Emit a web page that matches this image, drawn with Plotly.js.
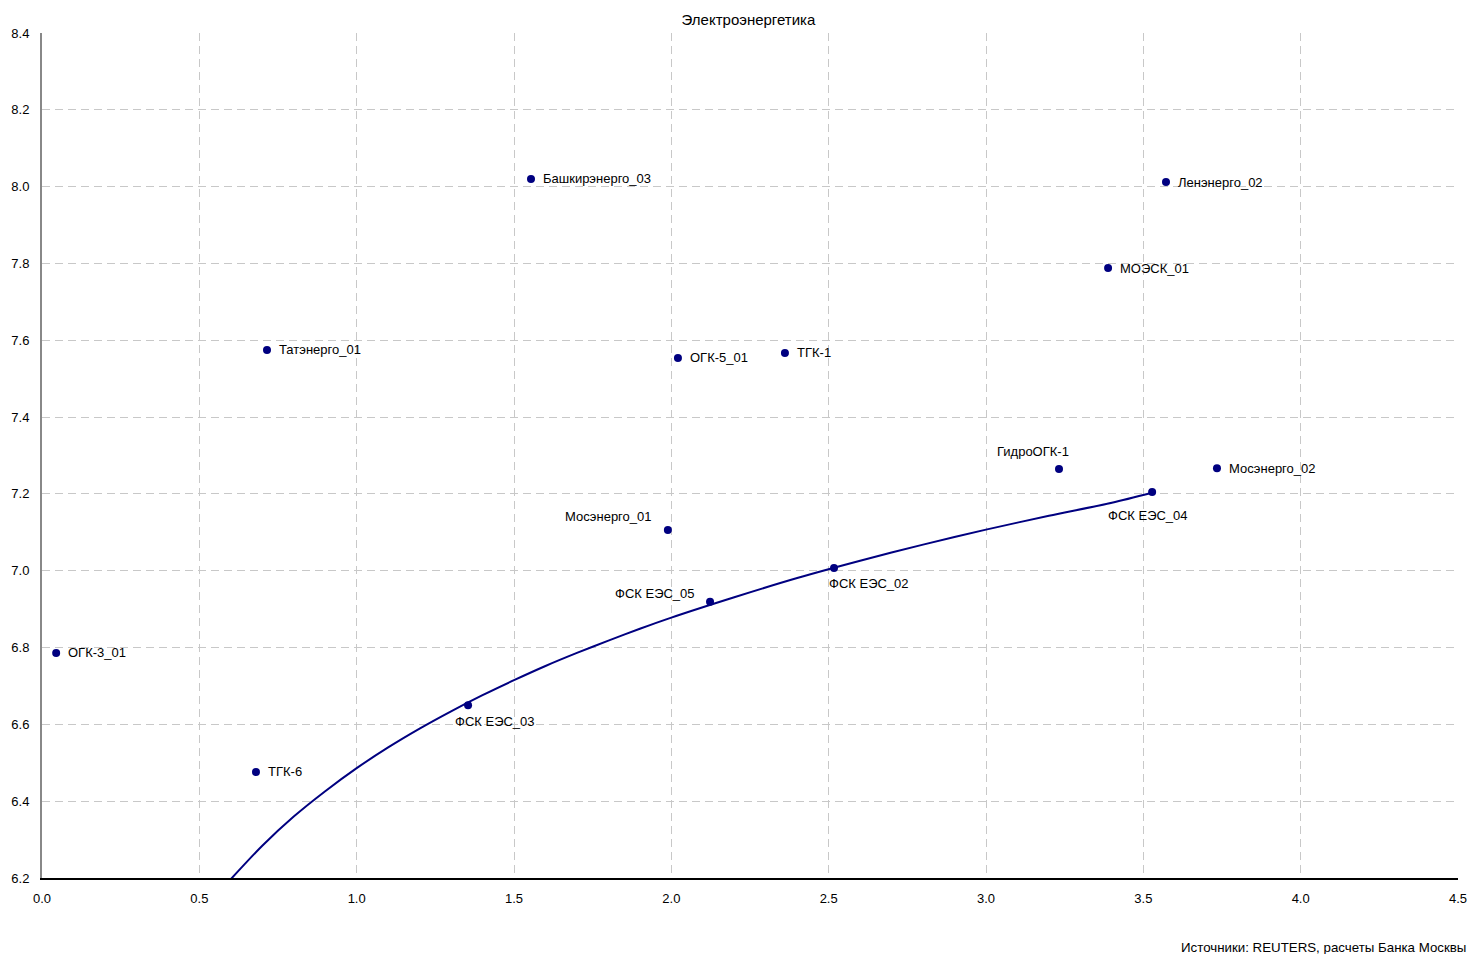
<!DOCTYPE html>
<html>
<head>
<meta charset="utf-8">
<script src="https://cdn.plot.ly/plotly-3.0.1.min.js"></script>
<style>html,body{margin:0;padding:0;background:#fff;}#chart{width:1469px;height:954px;}</style>
</head>
<body>
<div id="chart"></div>
<script>
// Issuers and their coordinates
const names = ["ОГК-3_01","ТГК-6","Татэнерго_01","Башкирэнерго_03","ФСК ЕЭС_03","Мосэнерго_01","ОГК-5_01","ФСК ЕЭС_05","ТГК-1","ФСК ЕЭС_02","ГидроОГК-1","ФСК ЕЭС_04","МОЭСК_01","Ленэнерго_02","Мосэнерго_02"];
const xVals = [0.045, 0.680, 0.715, 1.554, 1.354, 1.989, 2.021, 2.123, 2.361, 2.517, 3.232, 3.528, 3.388, 3.572, 3.734];
const yVals = [6.786, 6.476, 7.575, 8.020, 6.650, 7.106, 7.554, 6.919, 7.567, 7.007, 7.265, 7.205, 7.788, 8.012, 7.267];

// Trend curve points
const trendX = [0.60, 0.70, 0.80, 0.90, 1.00, 1.10, 1.20, 1.30, 1.40, 1.50, 1.60, 1.70, 1.80, 1.90, 2.00, 2.20, 2.40, 2.60, 2.80, 3.00, 3.20, 3.40, 3.528];
const trendY = [6.197, 6.284, 6.360, 6.426, 6.486, 6.540, 6.589, 6.634, 6.676, 6.715, 6.752, 6.786, 6.818, 6.849, 6.878, 6.931, 6.981, 7.026, 7.068, 7.107, 7.143, 7.177, 7.203];

// Label placement (style only): [xanchor, xshift px, yshift px]
const labelPlace = [
  ["left",10,0],["left",10,0],["left",10,0],["left",10,0],
  ["center",27,-16],["right",-14,14],["left",10,0],["right",-13,8],
  ["left",10,0],["left",-7,-15],["center",-26,17],["center",-4,-24],
  ["left",10,0],["left",10,0],["left",10,0]
];

const navy = "#000080";
const font = {family: "Liberation Sans, Arial, sans-serif", size: 13, color: "#000"};

const traces = [
  {x: trendX, y: trendY, type: "scatter", mode: "lines", line: {color: navy, width: 2, shape: "spline", smoothing: 0.8}, hoverinfo: "skip", showlegend: false},
  {x: xVals, y: yVals, type: "scatter", mode: "markers", marker: {color: navy, size: 8}, text: names, showlegend: false}
];

const annotations = names.map((n, i) => ({
  x: xVals[i], y: yVals[i], xref: "x", yref: "y", text: n, showarrow: false,
  xanchor: labelPlace[i][0], yanchor: "middle", xshift: labelPlace[i][1], yshift: labelPlace[i][2],
  font: font
}));
annotations.push({
  xref: "paper", yref: "paper", x: 1, y: 0, xanchor: "right", yanchor: "middle",
  xshift: 10, yshift: -69, text: "Источники: REUTERS, расчеты Банка Москвы", showarrow: false,
  font: {family: font.family, size: 13.3, color: "#000"}
});

const layout = {
  width: 1469, height: 954,
  margin: {l: 42, r: 11, t: 33, b: 76},
  paper_bgcolor: "#fff", plot_bgcolor: "#fff",
  font: font,
  title: {text: "Электроэнергетика", x: 0.5095, xanchor: "center", y: 1 - 20/954, yanchor: "middle",
          font: {family: font.family, size: 15, color: "#000"}},
  xaxis: {
    range: [0, 4.5], dtick: 0.5, tick0: 0, tickformat: ".1f",
    showgrid: true, gridcolor: "#c8c8c8", griddash: "8px,5px", gridwidth: 1,
    zeroline: false, showline: true, linecolor: "#000", linewidth: 1.5,
    ticks: "", ticklabelstandoff: 8, tickfont: font, fixedrange: true
  },
  yaxis: {
    range: [6.2, 8.4], dtick: 0.2, tick0: 6.2, tickformat: ".1f",
    showgrid: true, gridcolor: "#c8c8c8", griddash: "8px,5px", gridwidth: 1,
    zeroline: false, showline: true, linecolor: "#888888", linewidth: 2,
    ticks: "", ticklabelstandoff: 8, tickfont: font, fixedrange: true
  },
  annotations: annotations
};

Plotly.newPlot("chart", traces, layout, {displayModeBar: false, staticPlot: true});
</script>
</body>
</html>
